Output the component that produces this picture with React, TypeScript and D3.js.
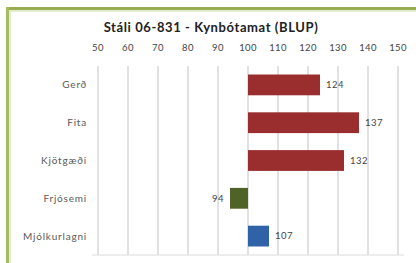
import React, { useEffect, useRef } from "react";
import * as d3 from "d3";

const categories = ["Gerð", "Fita", "Kjötgæði", "Frjósemi", "Mjólkurlagni"];
const values = [124, 137, 132, 94, 107];
const barColors = ["#9a2d2e", "#9a2d2e", "#9a2d2e", "#4f6228", "#2f62a6"];
const xTicks = [50, 60, 70, 80, 90, 100, 110, 120, 130, 140, 150];
const baseline = 100;

export default function App() {
  const ref = useRef<SVGSVGElement>(null);

  useEffect(() => {
    const W = 416;
    const H = 263;
    const svg = d3.select(ref.current);
    svg.selectAll("*").remove();
    svg.attr("width", W).attr("height", H);

    svg.append("rect").attr("width", W).attr("height", H).attr("fill", "#fff");

    // green frame (top and left)
    svg.append("rect").attr("x", 6).attr("y", 7).attr("width", W - 6).attr("height", 3).attr("fill", "#98ad52");
    svg.append("rect").attr("x", 6).attr("y", 7).attr("width", 3).attr("height", H - 7).attr("fill", "#a6bb62");
    svg.append("rect").attr("x", 9).attr("y", 10).attr("width", W - 9).attr("height", 2).attr("fill", "#e4ecd0");
    svg.append("rect").attr("x", 9).attr("y", 10).attr("width", 2).attr("height", H - 10).attr("fill", "#e4ecd0");

    const font = "Lato, 'Open Sans', sans-serif";

    const x = d3.scaleLinear().domain([50, 150]).range([98, 398]);
    const y = d3.scaleBand().domain(categories).range([66, 255]).paddingInner(0.45).paddingOuter(0.225);

    svg.append("text")
      .attr("x", 211)
      .attr("y", 32)
      .attr("text-anchor", "middle")
      .style("font-family", font)
      .style("font-size", "13px")
      .style("font-weight", "bold")
      .style("letter-spacing", "0.6px")
      .attr("fill", "#222")
      .text("Stáli 06-831 - Kynbótamat (BLUP)");

    const g = svg.append("g");

    g.selectAll("line.grid")
      .data(xTicks)
      .enter()
      .append("line")
      .attr("x1", (d) => x(d))
      .attr("x2", (d) => x(d))
      .attr("y1", 66)
      .attr("y2", 255)
      .attr("stroke", "#c4c4c4")
      .attr("stroke-width", 1);

    g.append("line")
      .attr("x1", 92)
      .attr("x2", 404)
      .attr("y1", 255)
      .attr("y2", 255)
      .attr("stroke", "#dcdcdc");

    g.selectAll("text.tick")
      .data(xTicks)
      .enter()
      .append("text")
      .attr("x", (d) => x(d))
      .attr("y", 51)
      .attr("text-anchor", "middle")
      .style("font-family", font)
      .style("font-size", "9.5px")
      .style("letter-spacing", "0.4px")
      .attr("fill", "#444")
      .text((d) => d);

    g.selectAll("text.cat")
      .data(categories)
      .enter()
      .append("text")
      .attr("x", 87)
      .attr("y", (d) => (y(d) as number) + y.bandwidth() / 2)
      .attr("dy", "0.35em")
      .attr("text-anchor", "end")
      .style("font-family", font)
      .style("font-size", "10px")
      .style("letter-spacing", "0.8px")
      .attr("fill", "#5a5a5a")
      .text((d) => d);

    g.selectAll("rect.bar")
      .data(values)
      .enter()
      .append("rect")
      .attr("x", (d) => x(Math.min(d, baseline)))
      .attr("y", (d, i) => y(categories[i]) as number)
      .attr("width", (d) => Math.abs(x(d) - x(baseline)))
      .attr("height", y.bandwidth())
      .attr("fill", (d, i) => barColors[i]);

    g.selectAll("text.val")
      .data(values)
      .enter()
      .append("text")
      .attr("x", (d) => (d >= baseline ? x(d) + 6 : x(d) - 6))
      .attr("y", (d, i) => (y(categories[i]) as number) + y.bandwidth() / 2)
      .attr("dy", "0.35em")
      .attr("text-anchor", (d) => (d >= baseline ? "start" : "end"))
      .style("font-family", font)
      .style("font-size", "9.5px")
      .style("letter-spacing", "0.5px")
      .attr("fill", "#444")
      .text((d) => d);
  }, []);

  return <svg ref={ref} style={{ position: "absolute", left: 0, top: 0, display: "block" }} />;
}
